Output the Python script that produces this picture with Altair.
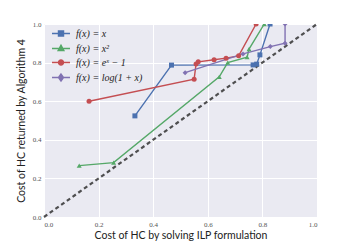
import altair as alt
import pandas as pd

series = ["f(x) = x", "f(x) = x²", "f(x) = eˣ − 1", "f(x) = log(1 + x)"]
colors = ["#4C72B0", "#55A868", "#C44E52", "#8172B2"]
shapes = ["square", "triangle-up", "circle", "diamond"]

blue_x = [0.333, 0.467, 0.766, 0.779, 0.791, 0.828]
blue_y = [0.524, 0.787, 0.788, 0.792, 0.840, 1.0]
green_x = [0.129, 0.255, 0.642, 0.673, 0.744, 0.751, 0.807]
green_y = [0.266, 0.282, 0.726, 0.800, 0.828, 0.870, 1.0]
red_x = [0.165, 0.550, 0.557, 0.565, 0.623, 0.667, 0.713, 0.777]
red_y = [0.600, 0.714, 0.793, 0.804, 0.815, 0.823, 0.835, 1.0]
purple_x = [0.517, 0.729, 0.829, 0.883, 0.883]
purple_y = [0.748, 0.845, 0.883, 0.900, 1.0]

diag_x = [0.0, 1.0]
diag_y = [0.0, 1.0]
ticks = [0.0, 0.2, 0.4, 0.6, 0.8, 1.0]

rows = []
for s, xs, ys in zip(series, [blue_x, green_x, red_x, purple_x],
                     [blue_y, green_y, red_y, purple_y]):
    for i, (x, y) in enumerate(zip(xs, ys)):
        rows.append({"series": s, "x": x, "y": y, "order": i})
df = pd.DataFrame(rows)
diag = pd.DataFrame({"x": diag_x, "y": diag_y})

# legend symbols: a short line with the marker in the middle
legend_paths = [
    "M-2,0H2M-0.55,-0.55H0.55V0.55H-0.55Z",
    "M-2,0H2M0,-0.7L0.62,0.45H-0.62Z",
    "M-2,0H2M-0.55,0A0.55,0.55 0 1,0 0.55,0A0.55,0.55 0 1,0 -0.55,0Z",
    "M-2,0H2M0,-0.75L0.55,0L0,0.75L-0.55,0Z",
]

label_font = "Liberation Serif"
title_font = "Lato"

xenc = alt.X("x:Q", scale=alt.Scale(domain=[0, 1], nice=False),
             axis=alt.Axis(values=ticks, format=".1f",
                           title="Cost of HC by solving ILP formulation"))
yenc = alt.Y("y:Q", scale=alt.Scale(domain=[0, 1], nice=False),
             axis=alt.Axis(values=ticks, format=".1f",
                           title="Cost of HC returned by Algorithm 4"))

diag_layer = alt.Chart(diag).mark_line(
    color="#333333", strokeWidth=2.2, strokeDash=[4, 3], opacity=0.85
).encode(x=xenc, y=yenc)

lines = alt.Chart(df).mark_line(strokeWidth=1.4, clip=True).encode(
    x=xenc, y=yenc,
    color=alt.Color("series:N", scale=alt.Scale(domain=series, range=colors), legend=None),
    order="order:Q",
)

point_layers = []
for s, c, sh in zip(series, colors, shapes):
    point_layers.append(
        alt.Chart(df).transform_filter(alt.datum.series == s).mark_point(
            filled=True, size=25, strokeWidth=0, opacity=1, clip=True, shape=sh, color=c
        ).encode(x=xenc, y=yenc)
    )

leg = alt.Legend(
    title=None, orient="none", legendX=11.5, legendY=4, padding=0,
    symbolSize=81, symbolStrokeWidth=1.5, symbolOpacity=1,
    labelFont=label_font, labelFontStyle="italic", labelFontSize=10,
    labelColor="#222222", labelOffset=9.5, rowPadding=3,
)

legend_layer = alt.Chart(df).transform_filter("false").mark_point(
    filled=True, strokeWidth=1.5
).encode(
    x=xenc, y=yenc,
    shape=alt.Shape("series:N", scale=alt.Scale(domain=series, range=legend_paths), legend=leg),
    fill=alt.Fill("series:N", scale=alt.Scale(domain=series, range=colors), legend=leg),
    stroke=alt.Stroke("series:N", scale=alt.Scale(domain=series, range=colors), legend=leg),
)

chart = alt.layer(diag_layer, lines, *point_layers, legend_layer).resolve_scale(
    shape="independent", fill="independent", stroke="independent"
).properties(
    width=273, height=193,
    autosize=alt.AutoSizeParams(type="none"),
    padding={"left": 36, "top": 16, "right": 10, "bottom": 25},
).configure_view(
    fill="#EAEAF2", stroke=None
).configure_axis(
    grid=True, gridColor="white", gridWidth=1, domain=False, ticks=False,
    labelFont=label_font, labelFontSize=7, labelColor="#555555", labelPadding=3,
    titleFont=title_font, titleFontSize=10.5, titleFontWeight="normal", titleColor="#222222",
).configure_axisX(titlePadding=3).configure_axisY(titlePadding=6)

chart.save("out.html", embed_options={"renderer": "svg", "actions": False})
